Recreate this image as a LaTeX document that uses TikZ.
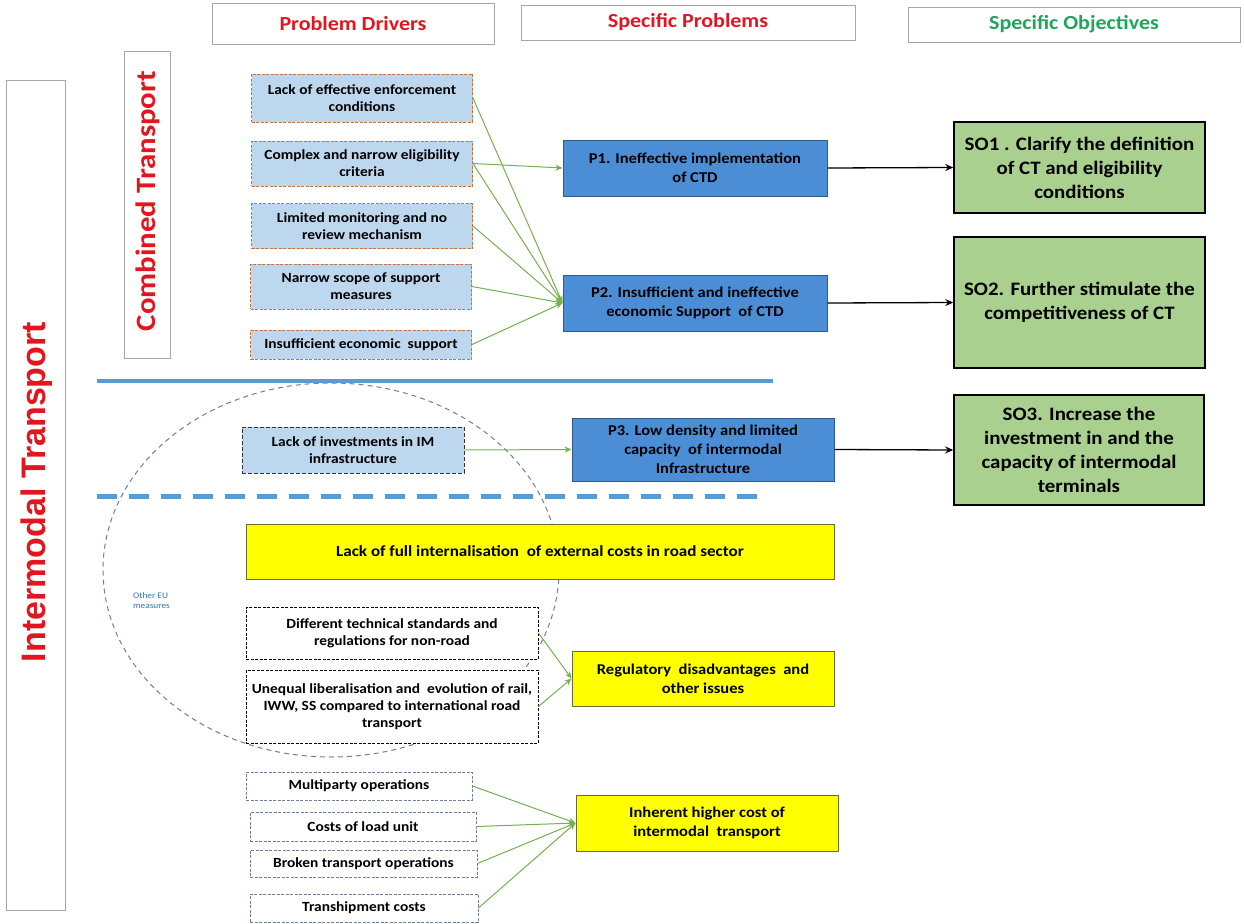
\documentclass[tikz,border=0pt]{standalone}
\usepackage{fontspec}
\usetikzlibrary{arrows.meta}
\newfontfamily\bx[FakeStretch=1.1]{Carlito}
\newfontfamily\ar{Liberation Sans}
\definecolor{drvfill}{HTML}{BDD7EE}
\definecolor{drvline}{HTML}{C8733A}
\definecolor{pfill}{HTML}{4C8ED6}
\definecolor{pline}{HTML}{2E5A8E}
\definecolor{sofill}{HTML}{A9D08E}
\definecolor{yfill}{HTML}{FFFF00}
\definecolor{yline}{HTML}{6B6B2F}
\definecolor{garrow}{HTML}{76B04F}
\definecolor{bline}{HTML}{5B9BD5}
\definecolor{hred}{HTML}{E3161F}
\definecolor{hgreen}{HTML}{1FA65A}
\definecolor{hgray}{HTML}{A6A6A6}
\definecolor{cgray}{HTML}{6F7F99}
\definecolor{eublue}{HTML}{2E75B6}
\tikzset{
  base/.style={inner sep=0pt, align=center, font={\bx\bfseries\fontsize{14}{17}\selectfont}},
  hdr/.style={base, draw=hgray, line width=0.8pt, fill=white, font={\bx\bfseries\fontsize{20}{24}\selectfont}},
  drvbox/.style={base, draw=drvline, fill=drvfill, line width=0.9pt, dash pattern=on 3pt off 1.5pt},
  imbox/.style={base, draw=black!80, fill=drvfill, line width=0.9pt, dash pattern=on 4pt off 2pt},
  blkbox/.style={base, draw=black, fill=white, line width=0.9pt, dash pattern=on 3pt off 1.5pt},
  grybox/.style={base, draw=cgray, fill=white, line width=0.8pt, dash pattern=on 3pt off 1.5pt},
  pbox/.style={base, draw=pline, fill=pfill, line width=1pt, font={\bx\bfseries\fontsize{15}{19}\selectfont}},
  sobox/.style={base, draw=black, fill=sofill, line width=1.5pt, font={\bx\bfseries\fontsize{19}{24}\selectfont}},
  ybox/.style={base, draw=yline, fill=yfill, line width=1pt, font={\bx\bfseries\fontsize{15}{19}\selectfont}},
  garr/.style={draw=garrow, line width=1pt, -{Stealth[length=7pt,width=6pt]}},
  barr/.style={draw=black, line width=1.3pt, -{Stealth[length=8pt,width=7pt]}},
}
\begin{document}
\begin{tikzpicture}[x=1pt,y=-1pt]
\useasboundingbox[fill=white] (0,0) rectangle (1244,923);
% headers
\node[hdr, text=hred, minimum width=282pt, minimum height=41pt] (h1) at (353,23.5) {Problem Drivers};
\node[hdr, text=hred, minimum width=334pt, minimum height=35pt] (h2) at (688,22.5) {Specific Problems};
\node[hdr, text=hgreen, minimum width=332pt, minimum height=35pt] (h3) at (1074,24.5) {Specific Objectives};
% side labels
\node[draw=hgray, line width=0.8pt, minimum width=59pt, minimum height=830pt, inner sep=0pt] (imt) at (36,495) {};
\node[rotate=90, text=hred, font={\ar\bfseries\fontsize{34}{40}\selectfont}, inner sep=0pt] (imtl) at (37,492) {Intermodal Transport};
\node[draw=hgray, line width=0.8pt, minimum width=46pt, minimum height=307pt, inner sep=0pt] (ctb) at (147,204.5) {};
\node[rotate=90, text=hred, font={\bx\bfseries\fontsize{28}{32}\selectfont}, inner sep=0pt] (ctbl) at (148,201) {Combined Transport};
% circle
\draw[draw=cgray, line width=1pt, dash pattern=on 5pt off 4pt] (331,570) ellipse [x radius=228, y radius=187];
\node[text=eublue, align=left, inner sep=0pt, anchor=west, font={\bx\fontsize{8.5}{10}\selectfont}] (eu) at (133,601) {Other EU\\measures};
% separator lines
\coordinate (s1a) at (97,381); \coordinate (s1b) at (773,381);
\draw[bline, line width=4.5pt] (s1a) -- (s1b);
\coordinate (s2a) at (97,496); \coordinate (s2b) at (760,496);
\draw[bline, line width=5pt, dash pattern=on 20pt off 12pt] (s2a) -- (s2b);
% drivers
\node[drvbox, minimum width=221pt, minimum height=48pt] (d1) at (362,98) {Lack of effective enforcement\\conditions};
\node[drvbox, minimum width=221pt, minimum height=45pt] (d2) at (362,163.5) {Complex and narrow eligibility\\criteria};
\node[drvbox, minimum width=221pt, minimum height=45pt] (d3) at (362,226) {Limited monitoring and no\\review mechanism};
\node[drvbox, minimum width=221pt, minimum height=45pt] (d4) at (361,286.5) {Narrow scope of support\\measures};
\node[drvbox, minimum width=221pt, minimum height=29pt] (d5) at (361,344.5) {Insufficient economic\ \ support};
\node[imbox, minimum width=222pt, minimum height=46pt] (d6) at (353,450) {Lack of investments in IM\\infrastructure};
\node[blkbox, minimum width=292pt, minimum height=52pt] (d7) at (392,633) {Different technical standards and\\regulations for non-road};
\node[blkbox, minimum width=292pt, minimum height=73pt] (d8) at (392,706.5) {Unequal liberalisation and\ \ evolution of rail,\\IWW, SS compared to international road\\transport};
\node[grybox, minimum width=226pt, minimum height=28pt] (m1) at (359,786) {Multiparty operations};
\node[grybox, minimum width=226pt, minimum height=29pt] (m2) at (363,826.5) {Costs of load unit};
\node[grybox, minimum width=227pt, minimum height=27pt] (m3) at (363.5,863.5) {Broken transport operations};
\node[grybox, minimum width=228pt, minimum height=28pt] (m4) at (364,908) {Transhipment costs};
% problems
\node[pbox, minimum width=264pt, minimum height=56pt] (p1) at (695,168) {P1. Ineffective implementation\\of CTD};
\node[pbox, minimum width=264pt, minimum height=56pt] (p2) at (695,303) {P2. Insufficient and ineffective\\economic Support\ \ of CTD};
\node[pbox, minimum width=262pt, minimum height=63pt] (p3) at (703,449.5) {P3. Low density and limited\\capacity\ \ of intermodal\\Infrastructure};
\node[ybox, minimum width=588pt, minimum height=55pt, font={\bx\bfseries\fontsize{15.5}{19}\selectfont}] (y1) at (540,551.5) {Lack of full internalisation\ \ of external costs in road sector};
\node[ybox, minimum width=262pt, minimum height=55pt] (y2) at (703,678.5) {Regulatory\ \ disadvantages\ \ and\\other issues};
\node[ybox, minimum width=262pt, minimum height=56pt] (y3) at (707,823) {Inherent higher cost of\\intermodal\ \ transport};
% objectives
\node[sobox, minimum width=251pt, minimum height=91pt] (so1) at (1079.5,167.5) {SO1 . Clarify the definition\\of CT and eligibility\\conditions};
\node[sobox, minimum width=251pt, minimum height=131pt] (so2) at (1079.5,302.5) {SO2. Further stimulate the\\competitiveness of CT};
\node[sobox, minimum width=250pt, minimum height=110pt] (so3) at (1079,450) {SO3. Increase the\\investment in and the\\capacity of intermodal\\terminals};
% green arrows
\draw[garr] (d1.east) -- (p2.west);
\draw[garr] (d2.east) -- (p1.west);
\draw[garr] (d2.east) -- (p2.west);
\draw[garr] (d3.east) -- (p2.west);
\draw[garr] (d4.east) -- (p2.west);
\draw[garr] (d5.east) -- (p2.west);
\draw[garr] (d6.east) -- (p3.west);
\draw[garr] (d7.east) -- (y2.west);
\draw[garr] (d8.east) -- (y2.west);
\draw[garr] (m1.east) -- (y3.west);
\draw[garr] (m2.east) -- (y3.west);
\draw[garr] (m3.east) -- (y3.west);
\draw[garr] (m4.east) -- (y3.west);
% black arrows
\draw[barr] (p1.east) -- (so1.west);
\draw[barr] (p2.east) -- (so2.west);
\draw[barr] (p3.east) -- (so3.west);
\end{tikzpicture}
\end{document}
